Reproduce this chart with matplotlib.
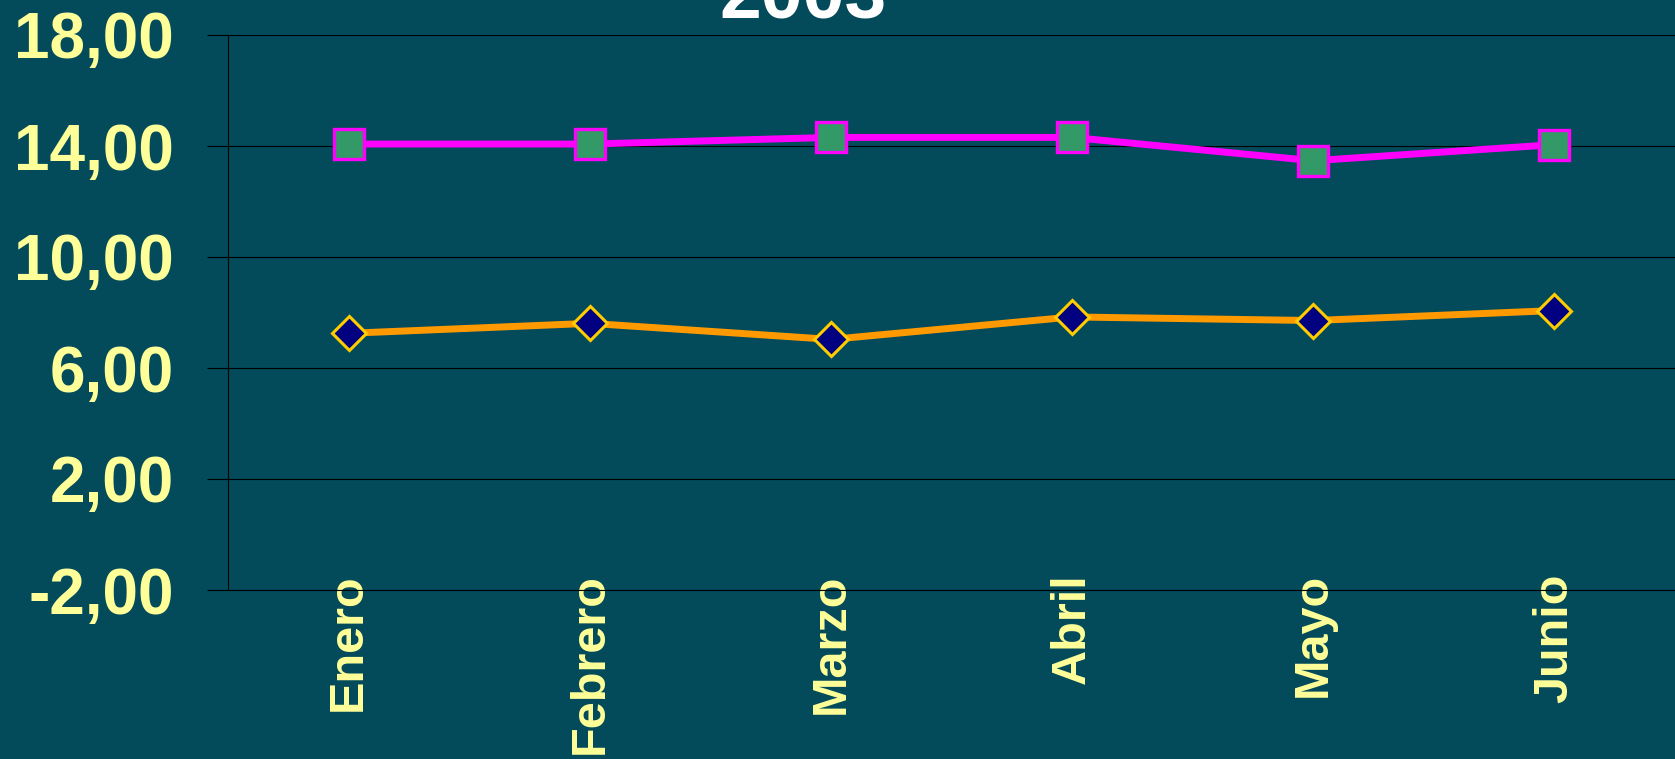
import matplotlib
matplotlib.use("Agg")
import matplotlib.pyplot as plt

# ---- data ----
months = ["Enero", "Febrero", "Marzo", "Abril", "Mayo", "Junio"]
serie_alta = [14.07, 14.07, 14.31, 14.31, 13.47, 14.05]
serie_baja = [7.25, 7.61, 7.03, 7.84, 7.71, 8.07]
y_ticks = [-2, 2, 6, 10, 14, 18]
y_tick_labels = ["-2,00", "2,00", "6,00", "10,00", "14,00", "18,00"]
title_text = "2003"

BG = "#034B5A"
YEL = "#FFFF99"

plt.rcParams['font.family'] = ['Liberation Sans', 'DejaVu Sans']

fig = plt.figure(figsize=(16.75, 7.59), dpi=100, facecolor=BG)
ax = fig.add_axes([228/1675, 1 - 590/759, 1 - 228/1675, (590 - 35)/759])
ax.set_facecolor(BG)

x = list(range(len(months)))
ax.plot(x, serie_alta, color="#FF00FF", lw=5, marker="s", ms=21.5,
        mfc="#339966", mec="#FF00FF", mew=2.4, zorder=3)
ax.plot(x, serie_baja, color="#FF9900", lw=5, marker="D", ms=17,
        mfc="#000080", mec="#FFCC00", mew=2.2, zorder=3)

ax.set_xlim(-0.5, len(months) - 0.5)
ax.set_ylim(-2, 18)
ax.set_yticks(y_ticks)
ax.set_yticklabels(y_tick_labels, color=YEL, fontsize=46, fontweight="bold")
ax.set_xticks(x)
ax.set_xticklabels(months, color=YEL, fontsize=35, fontweight="bold", rotation=90)
ax.tick_params(axis="y", length=15, width=0.8, color="black", pad=24)
ax.tick_params(axis="x", length=0, pad=-12)
ax.yaxis.grid(True, color="black", lw=0.8)
ax.set_axisbelow(True)
for s in ["top", "right"]:
    ax.spines[s].set_visible(False)
for s in ["left", "bottom"]:
    ax.spines[s].set_color("black")
    ax.spines[s].set_linewidth(0.8)

fig.text(803/1675, 1 - 18/759, title_text, color="white", fontsize=54,
         fontweight="bold", ha="center", va="baseline")

fig.savefig("out.png", dpi=100, facecolor=BG)
